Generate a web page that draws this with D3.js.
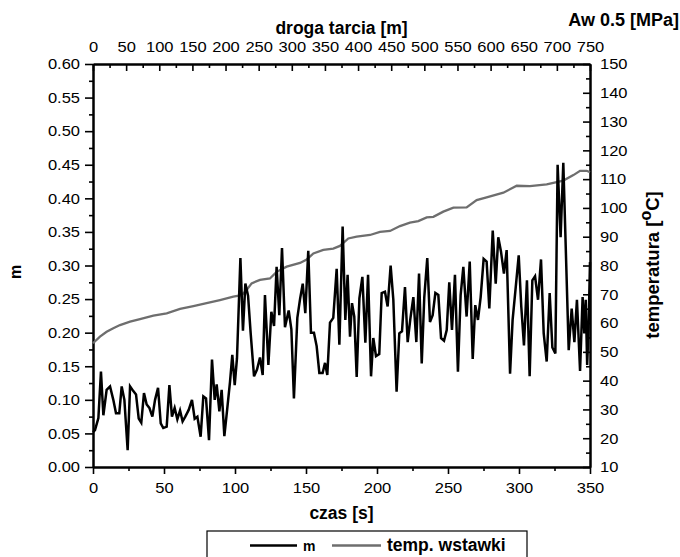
<!DOCTYPE html>
<html>
<head>
<meta charset="utf-8">
<script src="https://cdn.jsdelivr.net/npm/d3@7"></script>
<style>
  body { margin: 0; background: #fff; }
  svg { font-family: "Liberation Sans", Arial, sans-serif; }
</style>
</head>
<body>
<svg id="chart" width="680" height="557"></svg>
<script>
// czas [s] i wspolczynnik tarcia m
const czasM = [0, 1.4, 3.8, 5.6, 7.3, 9.6, 12.0, 14.3, 16.2, 18.5, 20.2, 22.1, 24.4, 26.1, 28.4, 30.3,
  32.2, 34.0, 35.9, 37.8, 39.7, 41.8, 43.7, 45.8, 47.7, 49.5, 51.9, 53.8, 55.6, 57.5, 59.4, 61.3,
  63.1, 65.0, 67.4, 69.7, 71.6, 73.5, 75.8, 77.7, 79.6, 81.7, 83.8, 85.7, 87.1, 89.0, 90.6, 92.5,
  94.6, 96.5, 98.1, 99.8, 101.4, 103.8, 105.6, 107.3, 109.2, 111.0, 113.4, 115.5, 117.6, 119.5,
  121.1, 123.5, 125.6, 127.5, 129.3, 131.2, 133.1, 135.2, 137.8, 139.7, 141.5, 143.9, 145.8, 147.7,
  149.5, 151.6, 153.5, 155.6, 157.5, 159.4, 161.7, 163.4, 165.0, 166.9, 169.2, 171.6, 173.5, 175.8,
  177.7, 179.3, 181.0, 182.4, 184.0, 185.7, 187.6, 189.7, 191.8, 193.7, 195.8, 197.4, 199.3, 201.6,
  203.3, 205.6, 207.5, 209.6, 211.5, 213.8, 215.7, 217.6, 219.7, 221.6, 223.5, 225.6, 227.7, 229.6,
  231.5, 233.3, 235.4, 237.3, 239.2, 241.1, 243.2, 245.1, 247.2, 249.1, 250.9, 252.8, 254.9, 257.0,
  258.9, 260.8, 263.1, 265.3, 267.4, 269.2, 271.1, 273.0, 275.1, 277.2, 279.1, 281.5, 283.6, 285.4,
  287.3, 289.4, 291.3, 293.7, 295.5, 297.4, 299.8, 301.6, 303.5, 305.6, 307.5, 309.4, 311.3, 313.4,
  315.5, 317.4, 319.5, 321.6, 323.5, 325.6, 327.2, 329.3, 331.2, 335.0, 337.1, 339.0, 340.8, 343.0,
  344.8, 346.0, 347.0, 348.0, 349.0, 350.0];
const wartM = [0.052, 0.055, 0.073, 0.142, 0.077, 0.115, 0.120, 0.100, 0.080, 0.080, 0.120, 0.100, 0.025, 0.120, 0.113, 0.108,
  0.072, 0.066, 0.110, 0.093, 0.088, 0.075, 0.100, 0.118, 0.065, 0.058, 0.060, 0.122, 0.075, 0.088, 0.071, 0.084,
  0.068, 0.075, 0.085, 0.100, 0.072, 0.075, 0.045, 0.105, 0.102, 0.040, 0.160, 0.100, 0.123, 0.083, 0.115, 0.046,
  0.088, 0.127, 0.167, 0.122, 0.162, 0.311, 0.203, 0.273, 0.255, 0.200, 0.135, 0.145, 0.163, 0.137,
  0.256, 0.152, 0.231, 0.210, 0.298, 0.226, 0.326, 0.208, 0.233, 0.205, 0.102, 0.222, 0.250, 0.273,
  0.229, 0.322, 0.200, 0.200, 0.180, 0.140, 0.140, 0.155, 0.137, 0.215, 0.222, 0.295, 0.182, 0.358,
  0.219, 0.286, 0.194, 0.244, 0.224, 0.134, 0.251, 0.283, 0.185, 0.286, 0.135, 0.192, 0.165, 0.168,
  0.259, 0.261, 0.239, 0.300, 0.249, 0.112, 0.199, 0.202, 0.268, 0.186, 0.221, 0.253, 0.186, 0.288,
  0.154, 0.253, 0.311, 0.216, 0.226, 0.259, 0.256, 0.192, 0.188, 0.204, 0.275, 0.204, 0.286, 0.142,
  0.256, 0.298, 0.224, 0.306, 0.161, 0.241, 0.219, 0.253, 0.310, 0.306, 0.236, 0.352, 0.273, 0.342,
  0.321, 0.288, 0.323, 0.139, 0.219, 0.261, 0.315, 0.239, 0.181, 0.278, 0.135, 0.278, 0.284, 0.249,
  0.309, 0.199, 0.157, 0.259, 0.178, 0.169, 0.450, 0.342, 0.453, 0.174, 0.236, 0.186, 0.249, 0.143,
  0.253, 0.199, 0.249, 0.152, 0.209, 0.305];

// temperatura wstawki [°C]
const czasT = [0, 4.9, 9.6, 14.3, 19.0, 26.1, 33.1, 42.5, 51.9, 61.3, 70.7, 80.0, 89.4, 98.8, 104.7, 108.2,
  111.7, 117.6, 124.6, 129.3, 136.4, 145.8, 150.5, 155.2, 162.2, 169.2, 173.9, 179.8, 185.7, 195.1,
  202.1, 209.2, 216.2, 223.2, 229.1, 235.0, 239.7, 246.7, 253.8, 263.1, 270.2, 277.2, 289.0, 298.4,
  307.7, 319.5, 331.2, 338.3, 343.0, 347.7, 350.0];
const wartT = [53.0, 55.3, 57.0, 58.2, 59.3, 60.5, 61.4, 62.6, 63.4, 64.9, 65.9, 66.9, 68.0, 69.2, 69.7, 71.5,
  73.8, 75.0, 75.5, 77.8, 79.6, 80.9, 82.1, 84.2, 85.4, 85.9, 86.8, 89.4, 90.0, 90.6,
  91.7, 92.0, 93.7, 94.9, 95.4, 96.7, 96.9, 98.7, 100.1, 100.2, 102.7, 103.7, 105.3, 107.7,
  107.6, 108.2, 109.5, 111.4, 112.9, 112.9, 112.4];

const ticksCzas = [0, 50, 100, 150, 200, 250, 300, 350];
const ticksDroga = [0, 50, 100, 150, 200, 250, 300, 350, 400, 450, 500, 550, 600, 650, 700, 750];
const ticksM = [0, 0.05, 0.10, 0.15, 0.20, 0.25, 0.30, 0.35, 0.40, 0.45, 0.50, 0.55, 0.60];
const ticksT = [10, 20, 30, 40, 50, 60, 70, 80, 90, 100, 110, 120, 130, 140, 150];

const svg = d3.select("#chart"),
      margin = {top: 64, right: 90, bottom: 90, left: 93},
      width = 590 - margin.left,
      height = 467 - margin.top;

const g = svg.append("g").attr("transform", `translate(${margin.left},${margin.top})`);

const x = d3.scaleLinear().domain([0, 350]).range([0, width]);
const xTop = d3.scaleLinear().domain([0, 750]).range([0, width]);
const y = d3.scaleLinear().domain([0, 0.6]).range([height, 0]);
const yT = d3.scaleLinear().domain([10, 150]).range([height, 0]);

const mids = arr => arr.slice(1).map((d, i) => (d + arr[i]) / 2);
const SX = 1.1; // tekst osi lekko rozciagniety w poziomie

function styleAxis(sel) {
  sel.select(".domain").attr("stroke", "#000").attr("stroke-width", 2);
  sel.selectAll(".tick line").attr("stroke", "#000").attr("stroke-width", 1.6);
  sel.selectAll("text")
    .style("font-size", "15px").attr("fill", "#000")
    .each(function() {
      const t = d3.select(this);
      const x0 = +t.attr("x") || 0;
      t.attr("x", x0 / SX).attr("transform", `scale(${SX},1)`);
    });
}

// --- Osie: dolna ---
g.append("g").attr("transform", `translate(0,${height})`)
  .call(d3.axisBottom(x).tickValues(mids(ticksCzas)).tickSize(4).tickFormat("").tickSizeOuter(0))
  .call(styleAxis);
g.append("g").attr("transform", `translate(0,${height})`)
  .call(d3.axisBottom(x).tickValues(ticksCzas).tickSize(7).tickPadding(8).tickSizeOuter(0))
  .call(styleAxis);

// --- gorna ---
g.append("g")
  .call(d3.axisTop(xTop).tickValues(mids(ticksDroga)).tickSize(-4).tickFormat("").tickSizeOuter(0))
  .call(styleAxis);
g.append("g")
  .call(d3.axisTop(xTop).tickValues(ticksDroga).tickSize(-7).tickPadding(12).tickSizeOuter(0))
  .call(styleAxis);

// --- lewa ---
g.append("g")
  .call(d3.axisLeft(y).tickValues(mids(ticksM)).tickSize(4).tickFormat("").tickSizeOuter(0))
  .call(styleAxis);
g.append("g")
  .call(d3.axisLeft(y).tickValues(ticksM).tickSize(8).tickPadding(5).tickFormat(d3.format(".2f")).tickSizeOuter(0))
  .call(styleAxis);

// --- prawa ---
g.append("g").attr("transform", `translate(${width},0)`)
  .call(d3.axisRight(yT).tickValues(mids(ticksT)).tickSize(-4).tickFormat("").tickSizeOuter(0))
  .call(styleAxis);
g.append("g").attr("transform", `translate(${width},0)`)
  .call(d3.axisRight(yT).tickValues(ticksT).tickSize(-7).tickPadding(10).tickSizeOuter(0))
  .call(styleAxis);

// --- Linie ---
const daneT = czasT.map((t, i) => ({t: t, v: wartT[i]}));
const daneM = czasM.map((t, i) => ({t: t, v: wartM[i]}));

g.append("path")
  .datum(daneT)
  .attr("fill", "none")
  .attr("stroke", "#6e6e6e")
  .attr("stroke-width", 2.3)
  .attr("d", d3.line().x(d => x(d.t)).y(d => yT(d.v)));

g.append("path")
  .datum(daneM)
  .attr("fill", "none")
  .attr("stroke", "#000")
  .attr("stroke-width", 2.5)
  .attr("d", d3.line().x(d => x(d.t)).y(d => y(d.v)));

// --- Tytuly ---
svg.append("text")
  .attr("x", margin.left + width / 2).attr("y", 34)
  .attr("text-anchor", "middle")
  .style("font-size", "17.5px").style("font-weight", "bold")
  .text("droga tarcia [m]");

svg.append("text")
  .attr("x", 679).attr("y", 26)
  .attr("text-anchor", "end")
  .style("font-size", "18px").style("font-weight", "bold")
  .text("Aw 0.5 [MPa]");

svg.append("text")
  .attr("x", margin.left + width / 2).attr("y", 519)
  .attr("text-anchor", "middle")
  .style("font-size", "17.5px").style("font-weight", "bold")
  .text("czas [s]");

svg.append("text")
  .attr("transform", "translate(21,272) rotate(-90)")
  .attr("text-anchor", "middle")
  .style("font-size", "16px").style("font-weight", "bold")
  .text("m");

const tTitle = svg.append("text")
  .attr("transform", "translate(659,265) rotate(-90)")
  .attr("text-anchor", "middle")
  .style("font-size", "18.5px").style("font-weight", "bold");
tTitle.append("tspan").text("temperatura [");
tTitle.append("tspan").attr("dy", -8).style("font-size", "16px").text("o");
tTitle.append("tspan").attr("dy", 8).text("C]");

// --- Legenda ---
const legend = svg.append("g").attr("transform", "translate(207,531)");
legend.append("rect")
  .attr("x", 0).attr("y", 0).attr("width", 320).attr("height", 40)
  .attr("fill", "#fff").attr("stroke", "#000").attr("stroke-width", 1.2);

const pozycje = [
  {nazwa: "m", kolor: "#000", x1: 43, x2: 90, rozmiar: "14px"},
  {nazwa: "temp. wstawki", kolor: "#6e6e6e", x1: 125, x2: 174, rozmiar: "17.5px"}
];
pozycje.forEach(p => {
  legend.append("line")
    .attr("x1", p.x1).attr("x2", p.x2).attr("y1", 14.5).attr("y2", 14.5)
    .attr("stroke", p.kolor).attr("stroke-width", 2.5);
  legend.append("text")
    .attr("x", p.x2 + 6).attr("y", 20)
    .style("font-size", p.rozmiar)
    .style("font-weight", "bold")
    .text(p.nazwa);
});
</script>
</body>
</html>
